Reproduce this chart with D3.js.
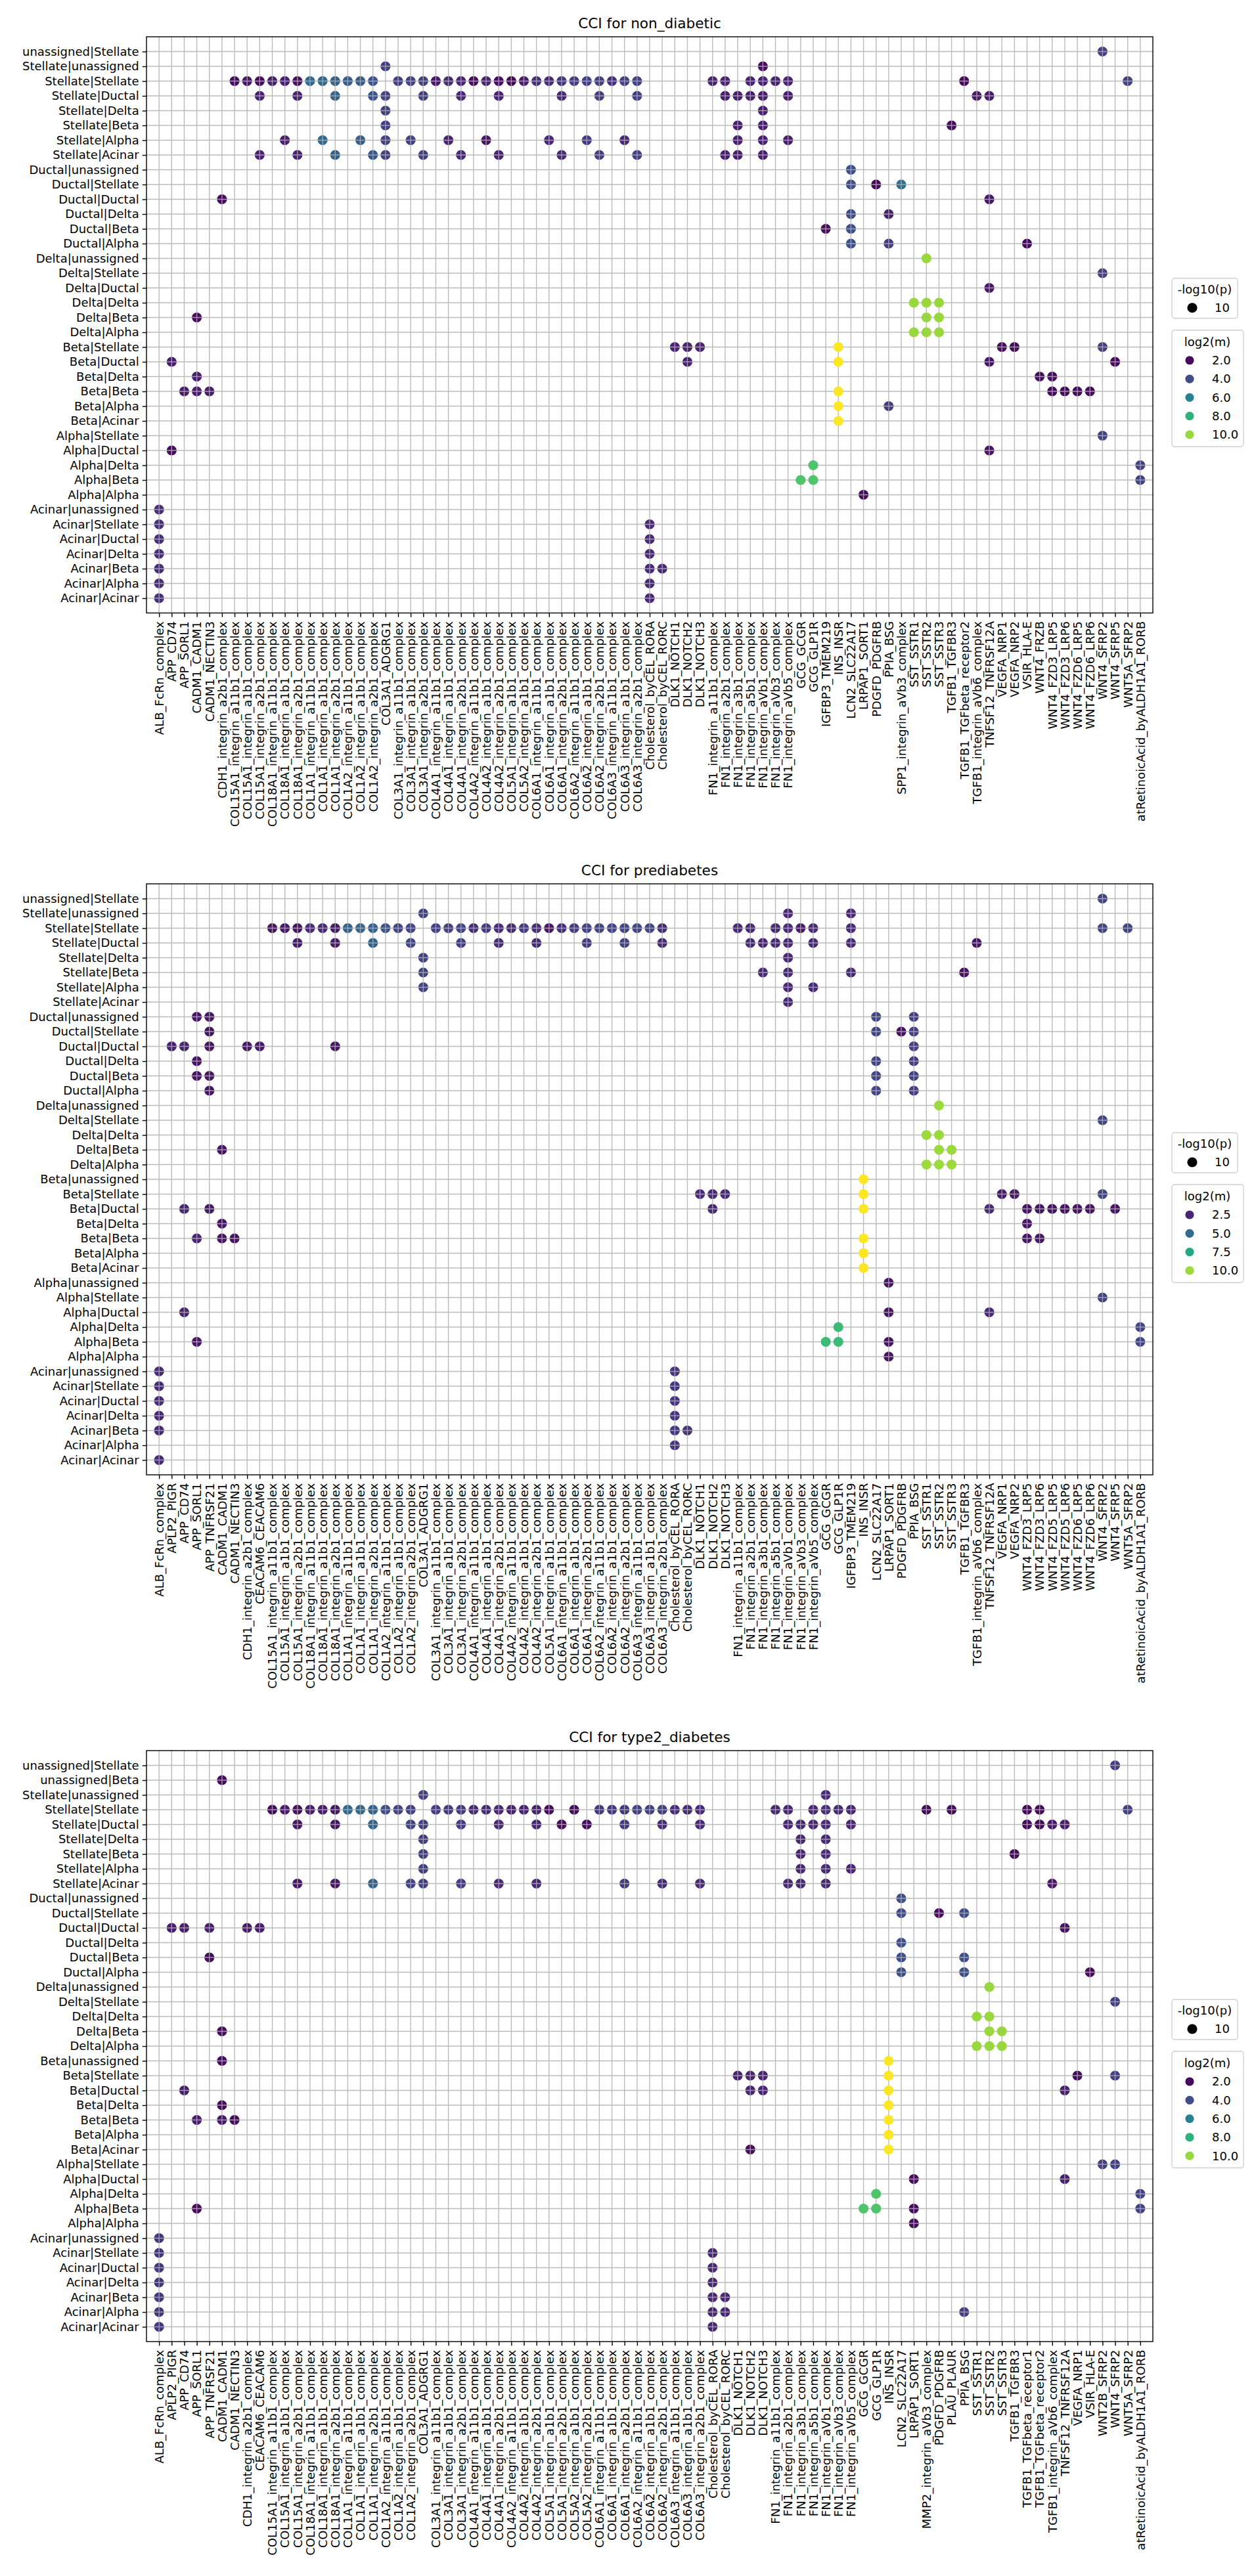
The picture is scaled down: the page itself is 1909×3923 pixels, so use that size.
<!DOCTYPE html>
<html><head><meta charset="utf-8">
<script src="https://cdn.jsdelivr.net/npm/d3@7"></script>
<style>
body{margin:0;background:#fff}
svg{display:block}
text{font-family:"DejaVu Sans",sans-serif;fill:#000}
</style>
</head><body>
<svg id="chart" width="1909" height="3923"></svg>
<script>
// ---------------- DATA ----------------
const titles = ["CCI for non_diabetic", "CCI for prediabetes", "CCI for type2_diabetes"];

const ndInteractions = [
"ALB_FcRn_complex","APP_CD74","APP_SORL1","CADM1_CADM1","CADM1_NECTIN3",
"CDH1_integrin_a2b1_complex",
"COL15A1_integrin_a11b1_complex","COL15A1_integrin_a1b1_complex","COL15A1_integrin_a2b1_complex",
"COL18A1_integrin_a11b1_complex","COL18A1_integrin_a1b1_complex","COL18A1_integrin_a2b1_complex",
"COL1A1_integrin_a11b1_complex","COL1A1_integrin_a1b1_complex","COL1A1_integrin_a2b1_complex",
"COL1A2_integrin_a11b1_complex","COL1A2_integrin_a1b1_complex","COL1A2_integrin_a2b1_complex",
"COL3A1_ADGRG1",
"COL3A1_integrin_a11b1_complex","COL3A1_integrin_a1b1_complex","COL3A1_integrin_a2b1_complex",
"COL4A1_integrin_a11b1_complex","COL4A1_integrin_a1b1_complex","COL4A1_integrin_a2b1_complex",
"COL4A2_integrin_a11b1_complex","COL4A2_integrin_a1b1_complex","COL4A2_integrin_a2b1_complex",
"COL5A1_integrin_a1b1_complex","COL5A2_integrin_a1b1_complex",
"COL6A1_integrin_a11b1_complex","COL6A1_integrin_a1b1_complex","COL6A1_integrin_a2b1_complex",
"COL6A2_integrin_a11b1_complex","COL6A2_integrin_a1b1_complex","COL6A2_integrin_a2b1_complex",
"COL6A3_integrin_a11b1_complex","COL6A3_integrin_a1b1_complex","COL6A3_integrin_a2b1_complex",
"Cholesterol_byCEL_RORA","Cholesterol_byCEL_RORC",
"DLK1_NOTCH1","DLK1_NOTCH2","DLK1_NOTCH3",
"FN1_integrin_a11b1_complex","FN1_integrin_a2b1_complex","FN1_integrin_a3b1_complex","FN1_integrin_a5b1_complex","FN1_integrin_aVb1_complex","FN1_integrin_aVb3_complex","FN1_integrin_aVb5_complex",
"GCG_GCGR","GCG_GLP1R","IGFBP3_TMEM219","INS_INSR","LCN2_SLC22A17","LRPAP1_SORT1","PDGFD_PDGFRB","PPIA_BSG",
"SPP1_integrin_aVb3_complex","SST_SSTR1","SST_SSTR2","SST_SSTR3",
"TGFB1_TGFBR3","TGFB1_TGFbeta_receptor2","TGFB1_integrin_aVb6_complex","TNFSF12_TNFRSF12A",
"VEGFA_NRP1","VEGFA_NRP2","VSIR_HLA-E",
"WNT4_FRZB","WNT4_FZD3_LRP5","WNT4_FZD3_LRP6","WNT4_FZD6_LRP5","WNT4_FZD6_LRP6","WNT4_SFRP2","WNT4_SFRP5","WNT5A_SFRP2",
"atRetinoicAcid_byALDH1A1_RORB"];

const preInteractions = [
"ALB_FcRn_complex","APLP2_PIGR","APP_CD74","APP_SORL1","APP_TNFRSF21","CADM1_CADM1","CADM1_NECTIN3",
"CDH1_integrin_a2b1_complex","CEACAM6_CEACAM6",
"COL15A1_integrin_a11b1_complex","COL15A1_integrin_a1b1_complex","COL15A1_integrin_a2b1_complex",
"COL18A1_integrin_a11b1_complex","COL18A1_integrin_a1b1_complex","COL18A1_integrin_a2b1_complex",
"COL1A1_integrin_a11b1_complex","COL1A1_integrin_a1b1_complex","COL1A1_integrin_a2b1_complex",
"COL1A2_integrin_a11b1_complex","COL1A2_integrin_a1b1_complex","COL1A2_integrin_a2b1_complex",
"COL3A1_ADGRG1",
"COL3A1_integrin_a11b1_complex","COL3A1_integrin_a1b1_complex","COL3A1_integrin_a2b1_complex",
"COL4A1_integrin_a11b1_complex","COL4A1_integrin_a1b1_complex","COL4A1_integrin_a2b1_complex",
"COL4A2_integrin_a11b1_complex","COL4A2_integrin_a1b1_complex","COL4A2_integrin_a2b1_complex",
"COL5A1_integrin_a1b1_complex",
"COL6A1_integrin_a11b1_complex","COL6A1_integrin_a1b1_complex","COL6A1_integrin_a2b1_complex",
"COL6A2_integrin_a11b1_complex","COL6A2_integrin_a1b1_complex","COL6A2_integrin_a2b1_complex",
"COL6A3_integrin_a11b1_complex","COL6A3_integrin_a1b1_complex","COL6A3_integrin_a2b1_complex",
"Cholesterol_byCEL_RORA","Cholesterol_byCEL_RORC",
"DLK1_NOTCH1","DLK1_NOTCH2","DLK1_NOTCH3",
"FN1_integrin_a11b1_complex","FN1_integrin_a2b1_complex","FN1_integrin_a3b1_complex","FN1_integrin_a5b1_complex","FN1_integrin_aVb1_complex","FN1_integrin_aVb3_complex","FN1_integrin_aVb5_complex",
"GCG_GCGR","GCG_GLP1R","IGFBP3_TMEM219","INS_INSR","LCN2_SLC22A17","LRPAP1_SORT1","PDGFD_PDGFRB","PPIA_BSG",
"SST_SSTR1","SST_SSTR2","SST_SSTR3",
"TGFB1_TGFBR3","TGFB1_integrin_aVb6_complex","TNFSF12_TNFRSF12A",
"VEGFA_NRP1","VEGFA_NRP2",
"WNT4_FZD3_LRP5","WNT4_FZD3_LRP6","WNT4_FZD5_LRP5","WNT4_FZD5_LRP6","WNT4_FZD6_LRP5","WNT4_FZD6_LRP6",
"WNT4_SFRP2","WNT4_SFRP5","WNT5A_SFRP2",
"atRetinoicAcid_byALDH1A1_RORB"];

const t2dInteractions = [
"ALB_FcRn_complex","APLP2_PIGR","APP_CD74","APP_SORL1","APP_TNFRSF21","CADM1_CADM1","CADM1_NECTIN3",
"CDH1_integrin_a2b1_complex","CEACAM6_CEACAM6",
"COL15A1_integrin_a11b1_complex","COL15A1_integrin_a1b1_complex","COL15A1_integrin_a2b1_complex",
"COL18A1_integrin_a11b1_complex","COL18A1_integrin_a1b1_complex","COL18A1_integrin_a2b1_complex",
"COL1A1_integrin_a11b1_complex","COL1A1_integrin_a1b1_complex","COL1A1_integrin_a2b1_complex",
"COL1A2_integrin_a11b1_complex","COL1A2_integrin_a1b1_complex","COL1A2_integrin_a2b1_complex",
"COL3A1_ADGRG1",
"COL3A1_integrin_a11b1_complex","COL3A1_integrin_a1b1_complex","COL3A1_integrin_a2b1_complex",
"COL4A1_integrin_a11b1_complex","COL4A1_integrin_a1b1_complex","COL4A1_integrin_a2b1_complex",
"COL4A2_integrin_a11b1_complex","COL4A2_integrin_a1b1_complex","COL4A2_integrin_a2b1_complex",
"COL5A1_integrin_a1b1_complex","COL5A1_integrin_a2b1_complex","COL5A2_integrin_a1b1_complex","COL5A2_integrin_a2b1_complex",
"COL6A1_integrin_a11b1_complex","COL6A1_integrin_a1b1_complex","COL6A1_integrin_a2b1_complex",
"COL6A2_integrin_a11b1_complex","COL6A2_integrin_a1b1_complex","COL6A2_integrin_a2b1_complex",
"COL6A3_integrin_a11b1_complex","COL6A3_integrin_a1b1_complex","COL6A3_integrin_a2b1_complex",
"Cholesterol_byCEL_RORA","Cholesterol_byCEL_RORC",
"DLK1_NOTCH1","DLK1_NOTCH2","DLK1_NOTCH3",
"FN1_integrin_a11b1_complex","FN1_integrin_a2b1_complex","FN1_integrin_a3b1_complex","FN1_integrin_a5b1_complex","FN1_integrin_aVb1_complex","FN1_integrin_aVb3_complex","FN1_integrin_aVb5_complex",
"GCG_GCGR","GCG_GLP1R","INS_INSR","LCN2_SLC22A17","LRPAP1_SORT1","MMP2_integrin_aVb3_complex","PDGFD_PDGFRB","PLAU_PLAUR","PPIA_BSG",
"SST_SSTR1","SST_SSTR2","SST_SSTR3",
"TGFB1_TGFBR3","TGFB1_TGFbeta_receptor1","TGFB1_TGFbeta_receptor2","TGFB1_integrin_aVb6_complex","TNFSF12_TNFRSF12A",
"VEGFA_NRP1","VSIR_HLA-E",
"WNT2B_SFRP2","WNT4_SFRP2","WNT5A_SFRP2",
"atRetinoicAcid_byALDH1A1_RORB"];

// cell-type pairs, listed top to bottom
const ndPairs = [
"unassigned|Stellate","Stellate|unassigned","Stellate|Stellate","Stellate|Ductal","Stellate|Delta","Stellate|Beta","Stellate|Alpha","Stellate|Acinar",
"Ductal|unassigned","Ductal|Stellate","Ductal|Ductal","Ductal|Delta","Ductal|Beta","Ductal|Alpha",
"Delta|unassigned","Delta|Stellate","Delta|Ductal","Delta|Delta","Delta|Beta","Delta|Alpha",
"Beta|Stellate","Beta|Ductal","Beta|Delta","Beta|Beta","Beta|Alpha","Beta|Acinar",
"Alpha|Stellate","Alpha|Ductal","Alpha|Delta","Alpha|Beta","Alpha|Alpha",
"Acinar|unassigned","Acinar|Stellate","Acinar|Ductal","Acinar|Delta","Acinar|Beta","Acinar|Alpha","Acinar|Acinar"];

const prePairs = [
"unassigned|Stellate","Stellate|unassigned","Stellate|Stellate","Stellate|Ductal","Stellate|Delta","Stellate|Beta","Stellate|Alpha","Stellate|Acinar",
"Ductal|unassigned","Ductal|Stellate","Ductal|Ductal","Ductal|Delta","Ductal|Beta","Ductal|Alpha",
"Delta|unassigned","Delta|Stellate","Delta|Delta","Delta|Beta","Delta|Alpha",
"Beta|unassigned","Beta|Stellate","Beta|Ductal","Beta|Delta","Beta|Beta","Beta|Alpha","Beta|Acinar",
"Alpha|unassigned","Alpha|Stellate","Alpha|Ductal","Alpha|Delta","Alpha|Beta","Alpha|Alpha",
"Acinar|unassigned","Acinar|Stellate","Acinar|Ductal","Acinar|Delta","Acinar|Beta","Acinar|Alpha","Acinar|Acinar"];

const t2dPairs = [
"unassigned|Stellate","unassigned|Beta","Stellate|unassigned","Stellate|Stellate","Stellate|Ductal","Stellate|Delta","Stellate|Beta","Stellate|Alpha","Stellate|Acinar",
"Ductal|unassigned","Ductal|Stellate","Ductal|Ductal","Ductal|Delta","Ductal|Beta","Ductal|Alpha",
"Delta|unassigned","Delta|Stellate","Delta|Delta","Delta|Beta","Delta|Alpha",
"Beta|unassigned","Beta|Stellate","Beta|Ductal","Beta|Delta","Beta|Beta","Beta|Alpha","Beta|Acinar",
"Alpha|Stellate","Alpha|Ductal","Alpha|Delta","Alpha|Beta","Alpha|Alpha",
"Acinar|unassigned","Acinar|Stellate","Acinar|Ductal","Acinar|Delta","Acinar|Beta","Acinar|Alpha","Acinar|Acinar"];

// dots: [pair index (top to bottom), interaction index, log2(m)]
const ndDots = [
[0,75,3.6],
[1,18,3.5],[1,48,2.0],
[2,6,2.0],[2,7,2.3],[2,8,2.0],[2,9,2.5],[2,10,2.5],[2,11,2.1],[2,12,5.0],[2,13,5.0],[2,14,4.8],[2,15,4.6],[2,16,4.5],[2,17,4.3],
[2,19,3.5],[2,20,3.5],[2,21,3.5],[2,22,2.2],[2,23,2.8],[2,24,2.7],[2,25,2.0],[2,26,2.6],[2,27,2.0],[2,28,1.9],[2,29,2.4],
[2,30,3.0],[2,31,2.8],[2,32,3.2],[2,33,3.4],[2,34,3.5],[2,35,3.5],[2,36,3.0],[2,37,3.5],[2,38,3.5],
[2,44,2.6],[2,45,2.6],[2,47,2.6],[2,48,2.6],[2,49,2.6],[2,50,2.6],[2,64,1.9],[2,77,3.5],
[3,8,2.6],[3,11,2.6],[3,14,4.8],[3,17,4.3],[3,18,3.6],[3,21,3.5],[3,24,2.8],[3,27,2.6],[3,32,2.8],[3,35,3.5],[3,38,3.5],
[3,45,2.5],[3,46,2.5],[3,47,2.5],[3,48,2.5],[3,50,2.5],[3,65,2.4],[3,66,2.4],
[4,18,3.5],[4,48,2.5],
[5,18,3.5],[5,46,2.5],[5,48,2.5],[5,63,2.0],
[6,10,2.5],[6,13,5.0],[6,16,4.5],[6,18,3.6],[6,20,3.5],[6,23,2.6],[6,26,2.2],[6,31,2.7],[6,34,3.3],[6,37,2.8],
[6,46,2.5],[6,48,2.5],[6,50,2.5],
[7,8,2.6],[7,11,2.6],[7,14,4.8],[7,17,4.3],[7,18,3.6],[7,21,3.5],[7,24,2.8],[7,27,2.6],[7,32,2.8],[7,35,3.5],[7,38,3.5],
[7,45,2.5],[7,46,2.5],[7,48,2.5],
[8,55,4.0],
[9,55,4.0],[9,57,1.9],[9,59,5.3],
[10,5,2.0],[10,66,2.3],
[11,55,4.0],[11,58,2.6],
[12,53,2.0],[12,55,4.0],
[13,55,4.0],[13,58,3.4],[13,69,1.9],
[14,61,10.0],
[15,75,3.6],
[16,66,2.2],
[17,60,10.0],[17,61,10.0],[17,62,10.0],
[18,3,2.0],[18,61,10.0],[18,62,10.0],
[19,60,10.0],[19,61,10.0],[19,62,10.0],
[20,41,2.6],[20,42,2.6],[20,43,2.6],[20,54,11.5],[20,67,2.0],[20,68,2.0],[20,75,3.6],
[21,1,2.4],[21,42,2.6],[21,54,11.5],[21,66,2.2],[21,76,2.0],
[22,3,2.4],[22,70,2.0],[22,71,2.0],
[23,2,2.4],[23,3,2.4],[23,4,2.4],[23,54,11.5],[23,71,2.0],[23,72,2.0],[23,73,2.0],[23,74,2.0],
[24,54,11.5],[24,58,3.4],
[25,54,11.5],
[26,75,3.6],
[27,1,2.0],[27,66,2.2],
[28,52,8.8],[28,78,3.6],
[29,51,8.8],[29,52,8.8],[29,78,3.6],
[30,56,2.0],
[31,0,3.0],
[32,0,3.0],[32,39,2.8],
[33,0,3.0],[33,39,2.8],
[34,0,3.0],[34,39,2.8],
[35,0,3.0],[35,39,2.8],[35,40,2.8],
[36,0,3.0],[36,39,2.8],
[37,0,3.0],[37,39,2.8]];

const preDots = [
[0,75,3.5],
[1,21,3.5],[1,50,2.6],[1,55,2.6],
[2,9,2.0],[2,10,2.1],[2,11,2.0],[2,12,2.6],[2,13,2.6],[2,14,2.2],[2,15,4.6],[2,16,4.8],[2,17,4.6],[2,18,4.0],[2,19,3.5],[2,20,3.5],
[2,22,3.3],[2,23,3.3],[2,24,3.5],[2,25,2.7],[2,26,3.2],[2,27,2.7],[2,28,2.6],[2,29,3.2],[2,30,2.7],[2,31,2.0],
[2,32,2.8],[2,33,3.2],[2,34,3.4],[2,35,3.5],[2,36,3.5],[2,37,3.5],[2,38,3.5],[2,39,3.5],[2,40,2.7],
[2,46,2.6],[2,47,2.6],[2,49,2.6],[2,50,2.6],[2,51,2.2],[2,52,2.6],[2,55,2.6],[2,75,3.5],[2,77,3.5],
[3,11,2.2],[3,14,2.2],[3,17,4.6],[3,20,3.6],[3,24,3.4],[3,27,2.7],[3,30,2.7],[3,34,3.2],[3,37,3.4],[3,40,2.7],
[3,47,2.6],[3,48,2.5],[3,49,2.6],[3,50,2.6],[3,52,2.6],[3,55,2.6],[3,65,2.0],
[4,21,3.5],[4,50,2.6],
[5,21,3.5],[5,48,2.6],[5,50,2.6],[5,55,2.6],[5,64,1.9],
[6,21,3.5],[6,50,2.6],[6,52,2.6],
[7,50,2.6],
[8,3,2.0],[8,4,2.0],[8,57,3.5],[8,60,3.3],
[9,4,2.0],[9,57,3.5],[9,59,2.0],[9,60,3.3],
[10,1,2.4],[10,2,2.4],[10,4,2.0],[10,7,2.1],[10,8,2.1],[10,14,2.1],[10,60,3.3],
[11,3,2.0],[11,57,3.5],[11,60,3.3],
[12,3,2.0],[12,4,2.0],[12,57,3.5],[12,60,3.3],
[13,4,2.0],[13,57,3.5],[13,60,3.3],
[14,62,10.0],
[15,75,3.5],
[16,61,10.0],[16,62,10.0],
[17,5,2.0],[17,62,10.0],[17,63,10.0],
[18,61,10.0],[18,62,10.0],[18,63,10.0],
[19,56,11.5],
[20,43,2.6],[20,44,2.6],[20,45,2.6],[20,56,11.5],[20,67,2.2],[20,68,2.2],[20,75,3.5],
[21,2,2.5],[21,4,2.1],[21,44,2.6],[21,56,11.5],[21,66,2.6],[21,69,2.0],[21,70,2.0],[21,71,2.0],[21,72,2.0],[21,73,2.0],[21,74,2.0],[21,76,2.0],
[22,5,2.0],[22,69,2.0],
[23,3,2.5],[23,5,2.0],[23,6,2.0],[23,56,11.5],[23,69,2.0],[23,70,2.0],
[24,56,11.5],
[25,56,11.5],
[26,58,2.0],
[27,75,3.5],
[28,2,2.5],[28,58,2.0],[28,66,2.6],
[29,54,8.3],[29,78,3.6],
[30,3,2.0],[30,53,8.3],[30,54,8.3],[30,58,2.0],[30,78,3.6],
[31,58,2.0],
[32,0,2.6],[32,41,3.0],
[33,0,2.6],[33,41,3.0],
[34,0,2.6],[34,41,3.0],
[35,0,2.6],[35,41,3.0],
[36,0,2.6],[36,41,3.0],[36,42,3.0],
[37,41,3.0],
[38,0,2.6]];

const t2dDots = [
[0,76,3.5],
[1,5,2.0],
[2,21,3.5],[2,53,2.8],
[3,9,2.0],[3,10,2.4],[3,11,2.1],[3,12,2.5],[3,13,2.5],[3,14,2.2],[3,15,5.0],[3,16,5.0],[3,17,4.8],[3,18,4.0],[3,19,3.6],[3,20,3.6],
[3,22,3.4],[3,23,3.4],[3,24,3.4],[3,25,2.8],[3,26,2.8],[3,27,2.8],[3,28,2.6],[3,29,2.6],[3,30,2.6],[3,31,2.0],[3,33,2.0],
[3,35,3.3],[3,36,3.3],[3,37,3.3],[3,38,3.5],[3,39,3.5],[3,40,3.5],[3,41,2.8],[3,42,2.8],[3,43,2.8],
[3,49,2.7],[3,50,2.7],[3,52,2.7],[3,53,3.0],[3,54,2.7],[3,55,2.7],[3,61,2.0],[3,63,2.0],[3,69,1.9],[3,70,1.9],[3,77,3.5],
[4,11,2.2],[4,14,2.2],[4,17,4.8],[4,20,3.6],[4,21,3.5],[4,24,3.4],[4,27,2.8],[4,30,2.7],[4,32,2.0],[4,34,2.0],[4,37,3.3],
[4,40,2.8],[4,43,2.8],[4,50,2.7],[4,51,2.7],[4,52,2.7],[4,53,2.8],[4,55,2.7],[4,69,1.9],[4,70,1.9],[4,71,2.3],[4,72,2.4],
[5,21,3.5],[5,51,2.7],[5,53,2.8],
[6,21,3.5],[6,51,2.7],[6,53,2.8],[6,68,2.0],
[7,21,3.5],[7,51,2.7],[7,53,2.8],[7,55,2.7],
[8,11,2.2],[8,14,2.2],[8,17,4.8],[8,20,3.6],[8,21,3.5],[8,24,3.4],[8,27,2.8],[8,30,2.7],[8,37,3.3],
[8,40,2.8],[8,43,2.8],[8,50,2.7],[8,51,2.7],[8,53,2.8],[8,71,2.3],
[9,59,4.0],
[10,59,4.0],[10,62,2.0],[10,64,4.0],
[11,1,2.4],[11,2,2.4],[11,4,2.4],[11,7,2.4],[11,8,2.4],[11,72,2.1],
[12,59,4.0],
[13,4,2.0],[13,59,4.0],[13,64,4.0],
[14,59,4.0],[14,64,4.0],[14,74,2.0],
[15,66,10.0],
[16,76,3.5],
[17,65,10.0],[17,66,10.0],
[18,5,2.0],[18,66,10.0],[18,67,10.0],
[19,65,10.0],[19,66,10.0],[19,67,10.0],
[20,5,2.0],[20,58,11.5],
[21,46,2.6],[21,47,2.6],[21,48,2.6],[21,58,11.5],[21,73,2.0],[21,76,3.5],
[22,2,2.5],[22,47,2.6],[22,48,2.6],[22,58,11.5],[22,72,2.5],
[23,5,2.0],[23,58,11.5],
[24,3,2.5],[24,5,2.3],[24,6,2.0],[24,58,11.5],
[25,58,11.5],
[26,47,2.0],[26,58,11.5],
[27,75,3.5],[27,76,3.5],
[28,60,2.0],[28,72,2.5],
[29,57,8.8],[29,78,3.6],
[30,3,2.0],[30,56,8.8],[30,57,8.8],[30,60,2.0],[30,78,3.6],
[31,60,2.0],
[32,0,3.2],
[33,0,3.2],[33,44,2.7],
[34,0,3.2],[34,44,2.7],
[35,0,3.2],[35,44,2.7],
[36,0,3.2],[36,44,2.7],[36,45,2.7],
[37,0,3.2],[37,44,2.7],[37,45,2.7],[37,64,3.5],
[38,0,3.2],[38,44,2.7]];

// -log10(p) of every shown interaction, and legend entries
const pValueLevel = [10];
const ndColorTicks = [2.0, 4.0, 6.0, 8.0, 10.0];
const preColorTicks = [2.5, 5.0, 7.5, 10.0];
const t2dColorTicks = [2.0, 4.0, 6.0, 8.0, 10.0];
const ndColorRange = [1.7, 11.5];
const preColorRange = [1.5, 11.5];
const t2dColorRange = [1.7, 11.5];

// ---------------- LAYOUT ----------------
const svg = d3.select("#chart");
const AX_L = 223, AX_R = 1755, ROW = 22.5;
const FS = 18;
const panels = [
  {title: titles[0], xs: ndInteractions, ys: ndPairs, dots: ndDots, ticks: ndColorTicks, dom: ndColorRange, top: 56},
  {title: titles[1], xs: preInteractions, ys: prePairs, dots: preDots, ticks: preColorTicks, dom: preColorRange, top: 1346},
  {title: titles[2], xs: t2dInteractions, ys: t2dPairs, dots: t2dDots, ticks: t2dColorTicks, dom: t2dColorRange, top: 2666}
];

const rScale = d3.scaleSqrt().domain([0, 10]).range([0, 7.6]);

panels.forEach(p => {
  const top = p.top, bot = top + (p.ys.length + 1) * ROW;
  const x = d3.scalePoint().domain(p.xs).range([AX_L, AX_R]).padding(1);
  const y = d3.scalePoint().domain(p.ys).range([top, bot]).padding(1);
  const color = d3.scaleSequential(d3.interpolateViridis).domain(p.dom);
  const g = svg.append("g");

  const pts = p.dots.map(([ri, ci, m]) => ({pair: p.ys[ri], lr: p.xs[ci], m: m, lp: pValueLevel[0]}));

  g.append("g").selectAll("circle").data(pts.filter(d => d.m < 7)).join("circle")
    .attr("cx", d => x(d.lr)).attr("cy", d => y(d.pair))
    .attr("r", d => rScale(d.lp)).attr("fill", d => color(d.m));

  const grid = g.append("g").attr("stroke", "#b0b0b0").attr("stroke-width", 1.4).attr("opacity", 0.85);
  grid.selectAll("line.v").data(p.xs).join("line").attr("class", "v")
    .attr("x1", d => x(d)).attr("x2", d => x(d)).attr("y1", top).attr("y2", bot);
  grid.selectAll("line.h").data(p.ys).join("line").attr("class", "h")
    .attr("y1", d => y(d)).attr("y2", d => y(d)).attr("x1", AX_L).attr("x2", AX_R);

  g.append("g").selectAll("circle").data(pts.filter(d => d.m >= 7)).join("circle")
    .attr("cx", d => x(d.lr)).attr("cy", d => y(d.pair))
    .attr("r", d => rScale(d.lp)).attr("fill", d => color(d.m));

  const xa = g.append("g").attr("transform", `translate(0,${bot})`)
    .call(d3.axisBottom(x).tickSize(6.3).tickPadding(6));
  xa.select(".domain").remove();
  xa.selectAll(".tick line").attr("stroke", "#000").attr("stroke-width", 1.4);
  xa.selectAll(".tick text")
    .attr("font-size", FS).attr("fill", "#000")
    .attr("y", 0).attr("dy", "0.35em")
    .attr("transform", "translate(0,12.5) rotate(-90)")
    .attr("text-anchor", "end");

  const ya = g.append("g").attr("transform", `translate(${AX_L},0)`)
    .call(d3.axisLeft(y).tickSize(6.3).tickPadding(5));
  ya.select(".domain").remove();
  ya.selectAll(".tick line").attr("stroke", "#000").attr("stroke-width", 1.4);
  ya.selectAll(".tick text").attr("font-size", FS).attr("fill", "#000");

  g.append("rect").attr("x", AX_L).attr("y", top).attr("width", AX_R - AX_L).attr("height", bot - top)
    .attr("fill", "none").attr("stroke", "#000").attr("stroke-width", 1.4);

  g.append("text").attr("x", (AX_L + AX_R) / 2).attr("y", top - 13)
    .attr("text-anchor", "middle").attr("font-size", 21.6).text(p.title);

  const yc = (top + bot) / 2;
  const lx = 1784;
  const l1 = g.append("g");
  l1.append("rect").attr("x", lx).attr("y", yc - 71).attr("width", 100).attr("height", 61)
    .attr("rx", 4).attr("fill", "#fff").attr("stroke", "#d0d0d0").attr("stroke-width", 1.4);
  l1.append("text").attr("x", lx + 50).attr("y", yc - 54).attr("dy", "0.35em")
    .attr("text-anchor", "middle").attr("font-size", FS).text("-log10(p)");
  l1.selectAll("circle").data(pValueLevel).join("circle")
    .attr("cx", lx + 31).attr("cy", yc - 26).attr("r", d => rScale(d)).attr("fill", "#000");
  l1.selectAll("text.v").data(pValueLevel).join("text").attr("class", "v")
    .attr("x", lx + 65).attr("y", yc - 26).attr("dy", "0.35em").attr("font-size", FS).text(d => d);

  const l2 = g.append("g");
  l2.append("rect").attr("x", lx).attr("y", yc + 8).attr("width", 109).attr("height", 36 + p.ticks.length * 28.3)
    .attr("rx", 4).attr("fill", "#fff").attr("stroke", "#d0d0d0").attr("stroke-width", 1.4);
  l2.append("text").attr("x", lx + 54).attr("y", yc + 26).attr("dy", "0.35em")
    .attr("text-anchor", "middle").attr("font-size", FS).text("log2(m)");
  l2.selectAll("circle").data(p.ticks).join("circle")
    .attr("cx", lx + 27).attr("cy", (d, i) => yc + 54 + i * 28.3).attr("r", 6.6).attr("fill", d => color(d));
  l2.selectAll("text.v").data(p.ticks).join("text").attr("class", "v")
    .attr("x", lx + 61).attr("y", (d, i) => yc + 54 + i * 28.3).attr("dy", "0.35em")
    .attr("font-size", FS).text(d => d.toFixed(1));
});
</script>
</body></html>
